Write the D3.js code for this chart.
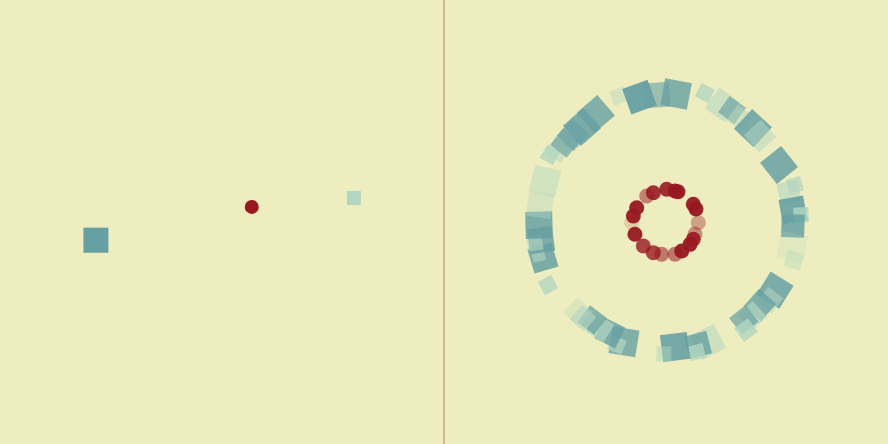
<!DOCTYPE html>
<html>
<head>
<meta charset="utf-8">
<script src="https://cdn.jsdelivr.net/npm/d3@7"></script>
<style>
html,body{margin:0;padding:0;background:#ededbf;}
svg{display:block;}
</style>
</head>
<body>
<svg id="chart" width="888" height="444"></svg>
<script>
// Left panel items: position in percent of panel, kind, size
const leftKinds = ["square", "circle", "square"];
const leftX = [21.6, 56.7, 79.7];
const leftY = [54.1, 46.6, 44.6];
const leftSize = [25, 14, 14];
const leftTone = ["dark", "red", "light"];

// Ring of squares: angle (deg, clockwise from top), radius, size, tone, opacity, extra tilt
const sqAngle = [339.5,348,356,4.5,16.8,25.6,30.5,35.4,42.8,47.5,63.2,74,76.3,84.6,87,91.8,101.2,106.5,122,126.9,131.4,137.5,141.5,143.5,160.7,165.4,166.6,175.9,180.9,199.3,201.7,206.8,211.9,217,220.8,224.4,241.9,253.7,255.5,261.8,260.9,268.6,277.7,288.7,300,303.7,308,313.1,318.5,327];
const sqRadius = [134.5,127.7,127.3,128.4,134.8,129.7,130,127.6,128,127.4,126.6,134,126.6,127.6,135.2,127,128.5,133.5,128.5,130,125.4,127.4,125,134.4,127,127,133.6,125.3,132,127,132.4,124.3,124.9,122.8,127,125.9,133.8,128.2,132,126.3,132.7,127,127.1,127.8,134,129.8,128.2,127.4,126.8,128.7];
const sqSize = [15,27,25,27,15,25,20,19,27,23,27,15,21,25,15,23,27,17,27,19,23,21,21,17,27,23,15,27,15,27,15,23,21,21,19,21,15,25,13,25,15,27,25,27,15,19,21,23,27,27];
const sqTone = ["light","dark","dark","dark","light","light","dark","light","dark","light","dark","light","light","dark","light","dark","light","light","dark","light","dark","light","dark","light","light","dark","light","dark","light","dark","light","dark","light","dark","light","light","light","dark","light","dark","light","dark","light","light","light","light","dark","dark","dark","dark"];
const sqOpacity = [0.4,0.95,0.6,0.8,0.8,0.55,0.65,0.5,0.85,0.5,0.85,0.7,0.6,0.9,0.8,0.85,0.2,0.35,0.85,0.55,0.8,0.7,0.7,0.8,0.55,0.8,0.8,0.9,0.5,0.8,0.7,0.85,0.7,0.75,0.6,0.3,0.8,0.85,0.6,0.85,0.6,0.85,0.4,0.45,0.8,0.5,0.65,0.65,0.85,0.8];
const sqTilt = [0,-8,0,6,10,10,5,0,0,0,-12,0,0,-5,0,0,0,0,0,0,0,0,0,0,-8,0,0,-3,0,-10,0,0,0,0,0,0,0,0,0,0,0,0,0,-5,0,0,0,0,0,-8];

// Inner ring of red dots
const dotAngle = [336.6,323.4,1.2,16.2,21.6,57,66.6,91.2,112.5,122.4,132.9,151.6,164.4,187.6,202.5,223.4,248.4,280.4,296,268.8];
const dotRadius = [31.9,32.4,32.7,32.3,32.6,32.5,32.7,32.3,31.4,32.3,32.8,33,33.5,32.6,33.2,33,33.4,33.2,32.6,34.3];
const dotOpacity = [0.9,0.5,0.9,0.95,0.95,0.95,0.95,0.35,0.45,0.9,0.95,0.95,0.55,0.55,0.8,0.8,0.95,0.95,0.95,0.15];

const colors = {dark:"#67a0a3", light:"#b2d6c0", red:"#981821"};
const W = 888, H = 444;
const svg = d3.select("#chart");

svg.append("rect").attr("width", W).attr("height", H).attr("fill", "#ededbf");

// Left panel
const lx = d3.scaleLinear().domain([0,100]).range([0, W/2]);
const ly = d3.scaleLinear().domain([0,100]).range([0, H]);
const left = svg.append("g");
leftKinds.forEach((k, i) => {
  if (k === "square") {
    left.append("rect")
      .attr("x", lx(leftX[i]) - leftSize[i]/2)
      .attr("y", ly(leftY[i]) - leftSize[i]/2)
      .attr("width", leftSize[i]).attr("height", leftSize[i])
      .attr("fill", colors[leftTone[i]]);
  } else {
    left.append("circle")
      .attr("cx", lx(leftX[i])).attr("cy", ly(leftY[i]))
      .attr("r", leftSize[i]/2)
      .attr("fill", colors[leftTone[i]]);
  }
});

// Divider
svg.append("line")
  .attr("x1", W/2).attr("x2", W/2).attr("y1", 0).attr("y2", H)
  .attr("stroke", "#d8b68c").attr("stroke-width", 2);

// Right panel: polar scales
const cx = 666, cy = 222;
const ang = d3.scaleLinear().domain([0,360]).range([0, 2*Math.PI]);
const rad = d3.scaleLinear().domain([0,140]).range([0,140]);
const right = svg.append("g").attr("transform", `translate(${cx},${cy})`);

const squares = sqAngle.map((a, i) => ({a, r: sqRadius[i], s: sqSize[i], t: sqTone[i], o: sqOpacity[i], tilt: sqTilt[i]}));
right.selectAll("rect.sq").data(squares).join("rect")
  .attr("class", "sq")
  .attr("x", d => -d.s/2).attr("y", d => -d.s/2)
  .attr("width", d => d.s).attr("height", d => d.s)
  .attr("fill", d => colors[d.t])
  .attr("fill-opacity", d => d.o)
  .attr("transform", d => {
    const th = ang(d.a);
    const x = rad(d.r) * Math.sin(th), y = -rad(d.r) * Math.cos(th);
    return `translate(${x},${y}) rotate(${d.a + d.tilt})`;
  });

const dots = dotAngle.map((a, i) => ({a, r: dotRadius[i], o: dotOpacity[i]}));
right.selectAll("circle.dot").data(dots).join("circle")
  .attr("class", "dot")
  .attr("cx", d => rad(d.r) * Math.sin(ang(d.a)))
  .attr("cy", d => -rad(d.r) * Math.cos(ang(d.a)))
  .attr("r", 7.5)
  .attr("fill", colors.red)
  .attr("fill-opacity", d => d.o);
</script>
</body>
</html>
